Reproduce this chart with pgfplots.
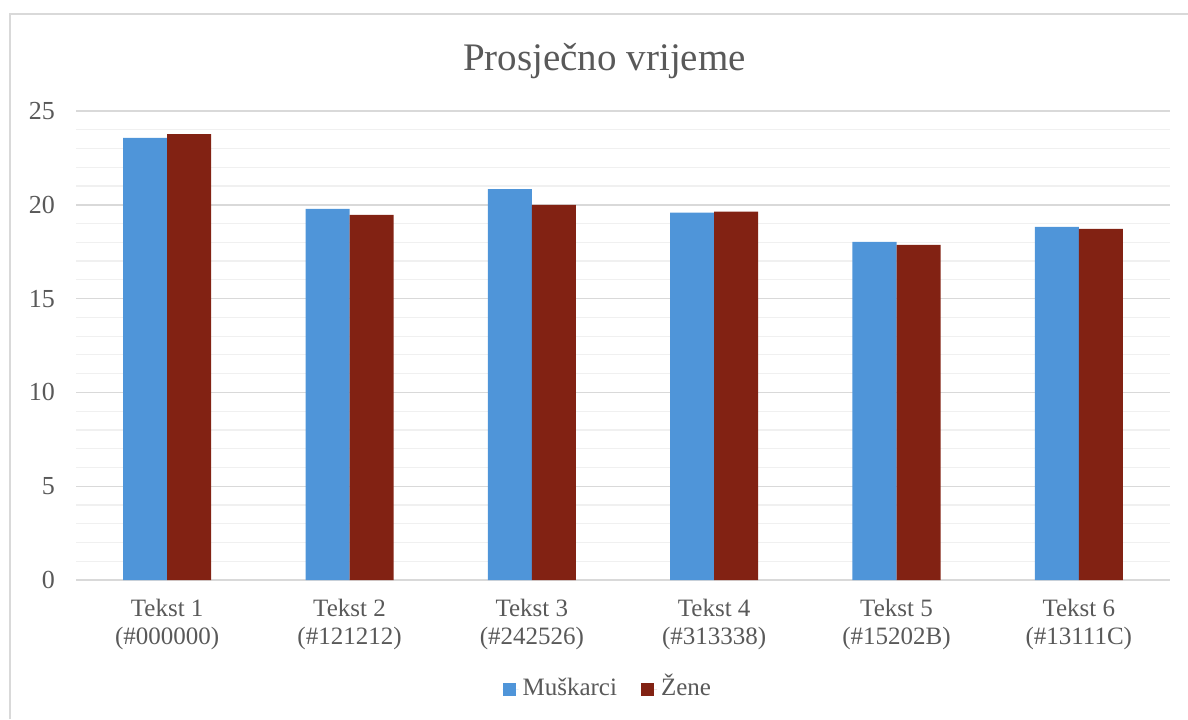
\documentclass[border=0pt]{standalone}
\usepackage{fontspec}
\setmainfont{Liberation Serif}
\usepackage{pgfplots}
\pgfplotsset{compat=1.18}
\definecolor{txt}{HTML}{595959}
\definecolor{mblue}{HTML}{4F95D9}
\definecolor{mred}{HTML}{822213}
\definecolor{majg}{HTML}{D9D9D9}
\definecolor{ming}{HTML}{F0F0F0}
\begin{document}
\begin{tikzpicture}
\useasboundingbox (0,0) rectangle (594pt,359.5pt);
\draw[majg, line width=0.6pt] (5pt,0) -- (5pt,352.5pt) -- (594pt,352.5pt);
\node[anchor=base, text=txt, font=\fontsize{19.5}{23}\selectfont] at (302.25pt,324pt) {Prosječno vrijeme};
\begin{axis}[
  at={(38pt,69.5pt)}, anchor=south west,
  scale only axis, width=547pt, height=234.5pt,
  xmin=-0.5, xmax=5.5, ymin=0, ymax=25,
  ybar=0pt, bar width=22pt,
  xtick={0,1,2,3,4,5},
  xticklabels={{Tekst 1\\(\#000000)},{Tekst 2\\(\#121212)},{Tekst 3\\(\#242526)},{Tekst 4\\(\#313338)},{Tekst 5\\(\#15202B)},{Tekst 6\\(\#13111C)}},
  xticklabel style={align=center, text=txt, font=\fontsize{12.5}{14}\selectfont, yshift=-6pt},
  ytick={0,5,10,15,20,25},
  minor y tick num=4,
  yticklabel style={text=txt, font=\fontsize{13}{14}\selectfont, xshift=-7pt},
  /pgf/number format/assume math mode=true,
  major tick length=0pt, minor tick length=0pt,
  ymajorgrids, yminorgrids,
  major grid style={majg, line width=0.7pt},
  minor grid style={ming, line width=0.6pt},
  axis x line*=bottom, axis y line*=left,
  x axis line style={majg, line width=0.8pt, -},
  y axis line style={draw=none},
  legend style={at={(0.487,-0.2345)}, anchor=center, draw=none, legend columns=2,
    font=\fontsize{12.5}{14}\selectfont, text=txt,
    nodes={text height=9pt, text depth=3pt},
    /tikz/every even column/.append style={column sep=10pt}},
  legend image code/.code={\fill[#1] (0pt,-3.25pt) rectangle (6.5pt,3.25pt); \path (0pt,0pt) -- (8pt,0pt);},
]
\addplot[fill=mblue, draw=none] coordinates {(0,23.57) (1,19.78) (2,20.84) (3,19.58) (4,18.02) (5,18.82)};
\addplot[fill=mred, draw=none] coordinates {(0,23.77) (1,19.46) (2,19.99) (3,19.63) (4,17.86) (5,18.72)};
\legend{Muškarci, Žene}
\end{axis}
\end{tikzpicture}
\end{document}
